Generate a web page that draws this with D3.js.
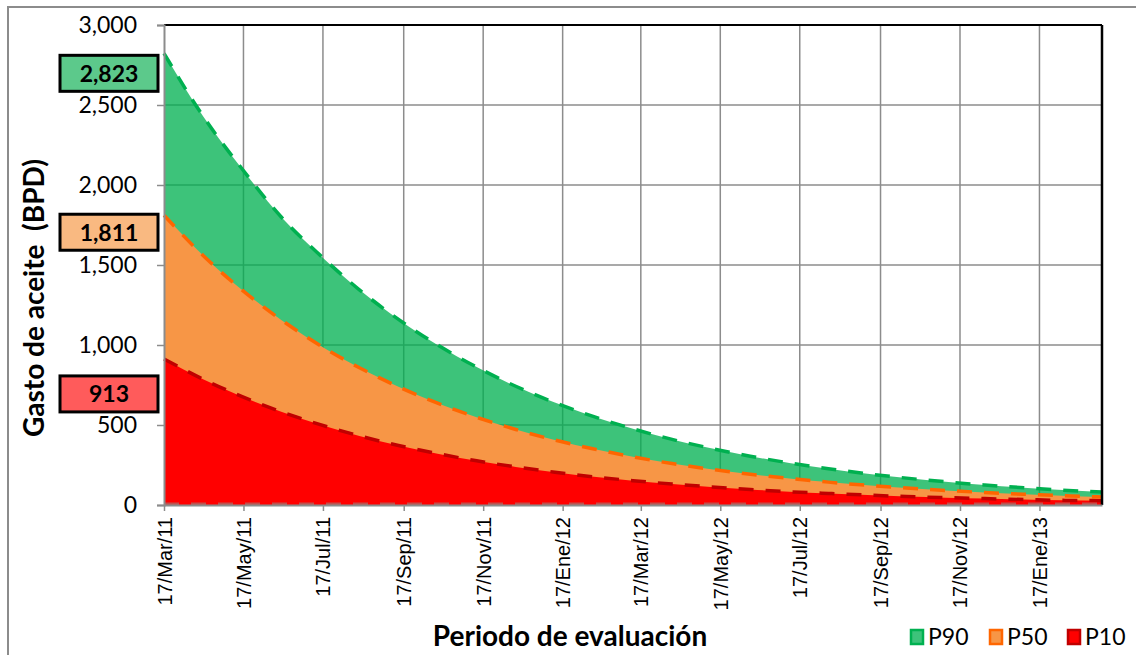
<!DOCTYPE html>
<html><head><meta charset="utf-8">
<script src="https://cdn.jsdelivr.net/npm/d3@7"></script>
<style>
body{margin:0;background:#fff;}
svg{display:block;font-family:Lato,"Open Sans",sans-serif;}
</style></head>
<body><svg id="c" width="1136" height="655"></svg>
<script>
// Days since 17/Mar/2011 for each data point
const dayOffsets = [0,30,60,90,120,150,180,210,240,270,300,330,360,390,420,450,480,510,540,570,600,630,660,690,720];
const p90 = [2823,2430,2100,1800,1560,1345,1160,1000,862,742,640,552,476,410,354,305,263,227,195,168,145,125,108,93,81];
const p50 = [1811,1560,1343,1157,996,858,739,636,548,472,406,350,301,259,223,192,166,143,123,106,91,78,67,58,50];
const p10 = [913,786,677,583,502,432,372,321,276,238,205,176,152,131,113,97,83,72,62,53,46,40,34,29,27];
const xTickDates = ["2011-03-17","2011-05-17","2011-07-17","2011-09-17","2011-11-17","2012-01-17","2012-03-17","2012-05-17","2012-07-17","2012-09-17","2012-11-17","2013-01-17"];
const xTickLabels = ["17/Mar/11","17/May/11","17/Jul/11","17/Sep/11","17/Nov/11","17/Ene/12","17/Mar/12","17/May/12","17/Jul/12","17/Sep/12","17/Nov/12","17/Ene/13"];
const yTicks = [0,500,1000,1500,2000,2500,3000];
const seriesNames = ["P90","P50","P10"];
const startLabels = ["2,823","1,811","913"];

const svg = d3.select("#c");
const L=164, R=1102, T=25, B=505;
const start = new Date(2011,2,17);
const dates = dayOffsets.map(d=>d3.timeDay.offset(start,d));
const x = d3.scaleTime().domain([start, d3.timeDay.offset(start,720)]).range([L,R]);
const y = d3.scaleLinear().domain([0,3000]).range([B,T]);

// outer frame
svg.append("rect").attr("x",8).attr("y",7).attr("width",1140).attr("height",660)
  .attr("fill","none").attr("stroke","#8c8c8c").attr("stroke-width",2);

// gridlines
const tickD = xTickDates.map(s=>{const p=s.split("-");return new Date(+p[0],+p[1]-1,+p[2]);});
svg.append("g").selectAll("line").data(yTicks.slice(1)).join("line")
  .attr("x1",L).attr("x2",R).attr("y1",d=>y(d)).attr("y2",d=>y(d))
  .attr("stroke","#8c8c8c").attr("stroke-width",1.5);
svg.append("g").selectAll("line").data(tickD.slice(1)).join("line")
  .attr("x1",d=>x(d)).attr("x2",d=>x(d)).attr("y1",T).attr("y2",B)
  .attr("stroke","#8c8c8c").attr("stroke-width",1.5);

const series = [
  {name:"P90", vals:p90, fill:"#00b050", op:0.76, line:"#00b050"},
  {name:"P50", vals:p50, fill:"#f79646", op:1, line:"#ff6600"},
  {name:"P10", vals:p10, fill:"#ff0000", op:1, line:"#c00000"}
];
const area = d3.area().x((d,i)=>x(dates[i])).y0(y(0)).y1(d=>y(d)).curve(d3.curveMonotoneX);
const line = d3.line().x((d,i)=>x(dates[i])).y(d=>y(d)).curve(d3.curveMonotoneX);
series.forEach(s=>{
  svg.append("path").datum(s.vals).attr("d",area).attr("fill",s.fill).attr("fill-opacity",s.op);
});
series.forEach(s=>{
  svg.append("path").datum(s.vals).attr("d",line).attr("fill","none")
    .attr("stroke",s.line).attr("stroke-width",3.5).attr("stroke-dasharray","15,12");
});
// zero dashed line
svg.append("line").attr("x1",L).attr("x2",R).attr("y1",y(0)-1).attr("y2",y(0)-1)
  .attr("stroke","#c0504d").attr("stroke-width",3).attr("stroke-dasharray","15,12");

// plot borders
svg.append("line").attr("x1",L).attr("x2",R).attr("y1",T).attr("y2",T).attr("stroke","#000").attr("stroke-width",2);
svg.append("line").attr("x1",R).attr("x2",R).attr("y1",T).attr("y2",B).attr("stroke","#000").attr("stroke-width",2.5);

// axes
const yAxis = svg.append("g").attr("transform",`translate(${L},0)`)
  .call(d3.axisLeft(y).tickValues(yTicks).tickFormat(d3.format(",")).tickSize(7).tickPadding(20));
yAxis.select(".domain").attr("stroke","#8c8c8c").attr("stroke-width",2);
yAxis.selectAll(".tick line").attr("stroke","#8c8c8c").attr("stroke-width",1.5);
yAxis.selectAll("text").attr("font-size",23).attr("fill","#000").attr("font-family","Lato");

const xAxis = svg.append("g").attr("transform",`translate(0,${B})`)
  .call(d3.axisBottom(x).tickValues(tickD).tickFormat((d,i)=>xTickLabels[i]).tickSize(6).tickSizeOuter(0));
xAxis.select(".domain").attr("stroke","#8c8c8c").attr("stroke-width",2);
xAxis.selectAll(".tick line").attr("stroke","#8c8c8c").attr("stroke-width",1.5);
xAxis.selectAll("text").attr("font-size",20).attr("fill","#000")
  .attr("transform","rotate(-90)").attr("text-anchor","end").attr("dy","0.35em").attr("x",-12).attr("y",0);

// axis titles
svg.append("text").attr("transform","translate(44,298) rotate(-90)").attr("text-anchor","middle")
  .attr("font-size",28).attr("font-weight","bold").attr("fill","#000").style("white-space","pre")
  .text("Gasto de aceite  (BPD)");
svg.append("text").attr("x",570).attr("y",646).attr("text-anchor","middle")
  .attr("font-size",28).attr("font-weight","bold").attr("fill","#000").text("Periodo de evaluación");

// start value boxes
const boxFills = ["#5cc98b","#f9b981","#ff5b5b"];
const boxOff = [20,17,35];
const boxes = svg.append("g").selectAll("g").data(series).join("g")
  .attr("transform",(d,i)=>`translate(0,${y(d.vals[0])+boxOff[i]})`);
boxes.append("rect").attr("x",60).attr("y",-18)
  .attr("width",98).attr("height",36).attr("fill",(d,i)=>boxFills[i]).attr("stroke","#000").attr("stroke-width",3);
boxes.append("text").attr("x",109).attr("y",0)
  .attr("dy","0.36em").attr("text-anchor","middle").attr("font-size",23).attr("font-weight","bold").attr("fill","#000")
  .text((d,i)=>startLabels[i]);

// legend
const legX = [912,991,1069];
const leg = svg.append("g").selectAll("g").data(series).join("g")
  .attr("transform",(d,i)=>`translate(${legX[i]},637)`);
leg.append("rect").attr("x",-1).attr("y",-7).attr("width",12).attr("height",14).attr("fill",d=>d.fill).attr("fill-opacity",d=>d.op)
  .attr("stroke",d=>d.line).attr("stroke-width",2.5);
leg.append("text").attr("x",16).attr("dy","0.35em").attr("font-size",23).attr("fill","#000").text(d=>d.name);
</script></body></html>
